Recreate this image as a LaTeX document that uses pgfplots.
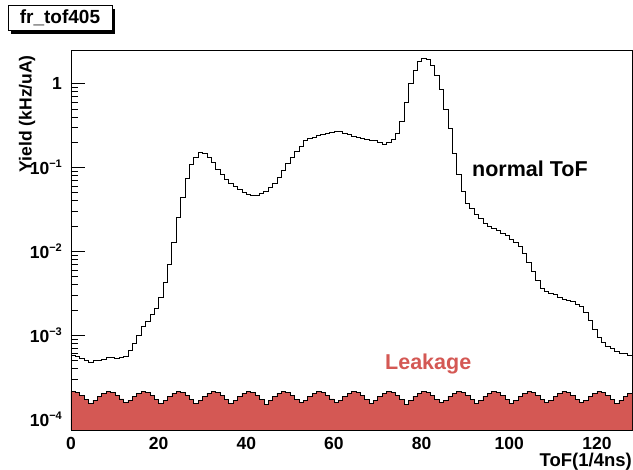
\documentclass[border=0pt]{standalone}
\usepackage{fontspec}
\setmainfont{Liberation Sans}
\usepackage{pgfplots}
\pgfplotsset{compat=1.18}
\usepackage{pgfplotstable}
\definecolor{leak}{RGB}{212,88,84}
\newcommand{\tl}[1]{10\raisebox{7pt}{\fontsize{11}{11}\selectfont\bfseries\textminus#1}}

\pgfplotstableread{
x y
0 5.78e-4
1 5.57e-4
2 5.27e-4
3 4.99e-4
4 4.78e-4
5 4.95e-4
6 5.05e-4
7 5.22e-4
8 5.37e-4
9 5.37e-4
10 5.27e-4
11 5.37e-4
12 5.62e-4
13 6.52e-4
14 7.89e-4
15 9.91e-4
16 1.26e-3
17 1.48e-3
18 1.76e-3
19 2.09e-3
20 2.83e-3
21 4.28e-3
22 7.08e-3
23 1.29e-2
24 2.54e-2
25 4.45e-2
26 7.48e-2
27 0.110
28 0.133
29 0.151
30 0.146
31 0.133
32 0.115
33 0.0957
34 0.0818
35 0.0714
36 0.0640
37 0.0594
38 0.0543
39 0.0504
40 0.0482
41 0.0469
42 0.0469
43 0.0495
44 0.0518
45 0.0578
46 0.0640
47 0.0767
48 0.0920
49 0.113
50 0.133
51 0.155
52 0.178
53 0.208
54 0.220
55 0.230
56 0.240
57 0.247
58 0.256
59 0.261
60 0.266
61 0.269
62 0.254
63 0.245
64 0.236
65 0.230
66 0.221
67 0.215
68 0.211
69 0.208
70 0.200
71 0.191
72 0.199
73 0.218
74 0.252
75 0.353
76 0.600
77 1.01
78 1.43
79 1.83
80 2.00
81 1.95
82 1.64
83 1.27
84 0.857
85 0.498
86 0.292
87 0.148
88 0.0818
89 0.0518
90 0.0377
91 0.0324
92 0.0275
93 0.0248
94 0.0218
95 0.0199
96 0.0186
97 0.0176
98 0.0166
99 0.0154
100 0.0140
101 0.0129
102 0.0115
103 0.00940
104 0.00746
105 0.00578
106 0.00448
107 0.00360
108 0.00334
109 0.00319
110 0.00310
111 0.00286
112 0.00271
113 0.00261
114 0.00254
115 0.00236
116 0.00218
117 0.00185
118 0.00151
119 0.00117
120 0.000931
121 0.000811
122 0.000740
123 0.000689
124 0.000634
125 0.000600
126 0.000605
127 0.000573
128 0.000573
}\toftable

\pgfplotstableread{
x y
0 2.13e-4
1 2.06e-4
2 1.93e-4
3 1.73e-4
4 1.52e-4
5 1.68e-4
6 1.88e-4
7 2.04e-4
8 2.13e-4
9 2.06e-4
10 1.93e-4
11 1.74e-4
12 1.59e-4
13 1.68e-4
14 1.88e-4
15 2.04e-4
16 2.13e-4
17 2.06e-4
18 1.93e-4
19 1.73e-4
20 1.55e-4
21 1.68e-4
22 1.88e-4
23 2.04e-4
24 2.13e-4
25 2.06e-4
26 1.93e-4
27 1.73e-4
28 1.54e-4
29 1.68e-4
30 1.88e-4
31 2.04e-4
32 2.13e-4
33 2.06e-4
34 1.93e-4
35 1.73e-4
36 1.54e-4
37 1.68e-4
38 1.88e-4
39 2.04e-4
40 2.13e-4
41 2.06e-4
42 1.93e-4
43 1.72e-4
44 1.50e-4
45 1.67e-4
46 1.88e-4
47 2.04e-4
48 2.13e-4
49 2.06e-4
50 1.93e-4
51 1.73e-4
52 1.57e-4
53 1.68e-4
54 1.88e-4
55 2.04e-4
56 2.13e-4
57 2.06e-4
58 1.93e-4
59 1.74e-4
60 1.59e-4
61 1.68e-4
62 1.88e-4
63 2.04e-4
64 2.13e-4
65 2.06e-4
66 1.93e-4
67 1.73e-4
68 1.54e-4
69 1.68e-4
70 1.88e-4
71 2.04e-4
72 2.13e-4
73 2.06e-4
74 1.93e-4
75 1.72e-4
76 1.48e-4
77 1.67e-4
78 1.88e-4
79 2.04e-4
80 2.13e-4
81 2.06e-4
82 1.93e-4
83 1.73e-4
84 1.57e-4
85 1.68e-4
86 1.88e-4
87 2.04e-4
88 2.13e-4
89 2.06e-4
90 1.93e-4
91 1.73e-4
92 1.54e-4
93 1.68e-4
94 1.88e-4
95 2.04e-4
96 2.13e-4
97 2.06e-4
98 1.93e-4
99 1.73e-4
100 1.54e-4
101 1.68e-4
102 1.88e-4
103 2.04e-4
104 2.13e-4
105 2.06e-4
106 1.93e-4
107 1.73e-4
108 1.57e-4
109 1.68e-4
110 1.88e-4
111 2.04e-4
112 2.13e-4
113 2.06e-4
114 1.93e-4
115 1.73e-4
116 1.57e-4
117 1.68e-4
118 1.88e-4
119 2.04e-4
120 2.13e-4
121 2.06e-4
122 1.93e-4
123 1.73e-4
124 1.52e-4
125 1.68e-4
126 1.88e-4
127 2.04e-4
128 2.04e-4
}\leaktable

\begin{document}
\begin{tikzpicture}
\useasboundingbox (0pt,0pt) rectangle (633pt,470pt);
\begin{axis}[
  at={(71pt,40pt)}, anchor=south west,
  scale only axis, width=561pt, height=379.3pt,
  ymode=log, log origin y=infty,
  xmin=0, xmax=128, ymin=7.4e-5, ymax=2.47,
  axis line style={line width=0.8pt},
  tick align=inside, xtick pos=bottom, ytick pos=left,
  xtick={0,20,...,120}, minor x tick num=3,
  ytick={1e-4,1e-3,1e-2,1e-1,1},
  yticklabels={\tl{4},\tl{3},\tl{2},\tl{1},1},
  major tick length=14pt, minor tick length=7pt,
  every tick/.style={black, line width=0.7pt},
  ticklabel style={font=\fontsize{17.5}{17.5}\selectfont\bfseries},
  /pgf/number format/assume math mode=true,
  xticklabel style={anchor=north, inner sep=0pt, yshift=-7pt},
  yticklabel style={anchor=east, inner sep=0pt, xshift=-9pt},
  xlabel={ToF(1/4ns)},
  xlabel style={at={(axis description cs:1,-0.061)}, anchor=north east, inner sep=0pt, font=\fontsize{18.5}{18.5}\selectfont\bfseries},
  ylabel={Yield (kHz/uA)},
  ylabel style={at={(axis description cs:-0.0784,0.9887)}, anchor=east, inner sep=0pt, font=\fontsize{17.5}{17.5}\selectfont\bfseries},
  clip=true,
]
\addplot[const plot, fill=leak, draw=black, line width=0.6pt] table[x=x,y=y] {\leaktable} \closedcycle;
\addplot[const plot, draw=black, line width=0.7pt] table[x=x,y=y] {\toftable};
\end{axis}
\node[anchor=base west, inner sep=0pt, font=\fontsize{21.5}{21.5}\selectfont\bfseries] at (472pt,293.3pt) {normal ToF};
\node[anchor=base west, inner sep=0pt, text=leak, font=\fontsize{21.5}{21.5}\selectfont\bfseries] at (385pt,100.7pt) {Leakage};
\fill[black] (11pt,436.3pt) rectangle (115pt,461.3pt);
\draw[fill=white, line width=0.8pt] (8pt,439.3pt) rectangle (112pt,464.3pt);
\node[anchor=base, inner sep=0pt, font=\fontsize{19}{19}\selectfont\bfseries] at (60pt,446pt) {fr\_tof405};
\end{tikzpicture}
\end{document}
